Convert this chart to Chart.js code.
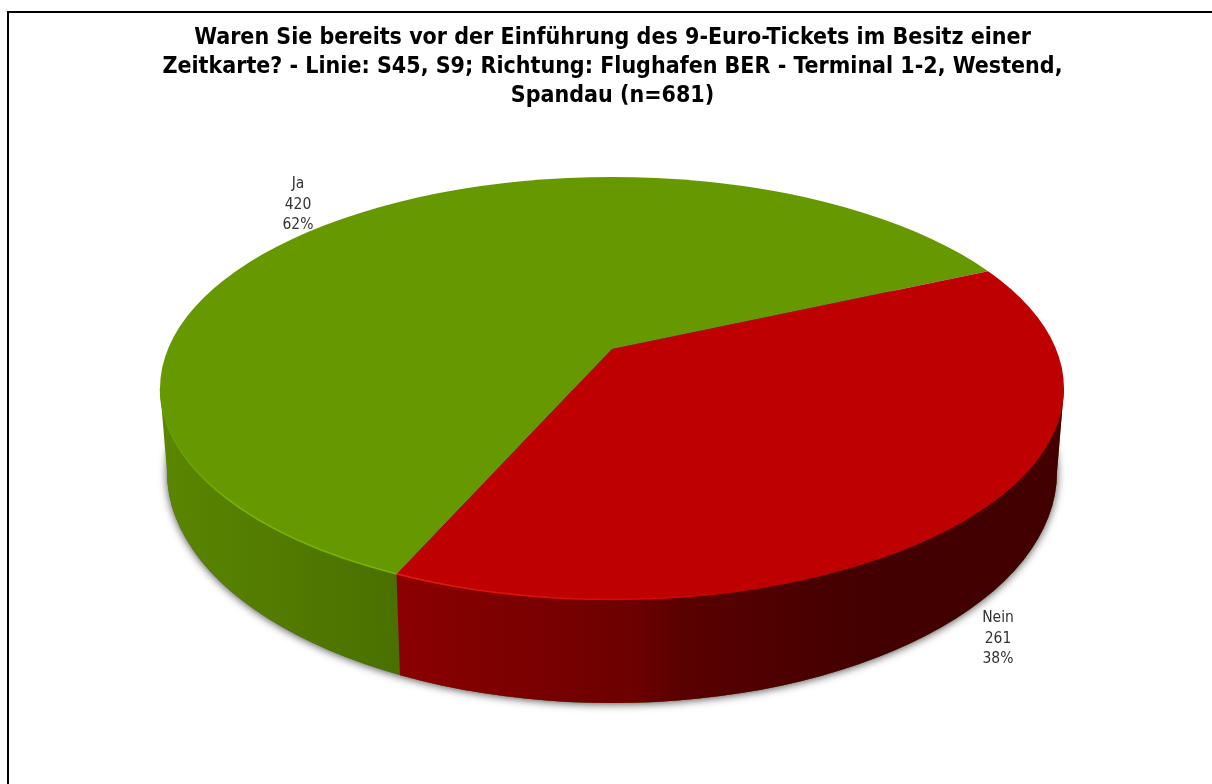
<!DOCTYPE html>
<html lang="de">
<head>
<meta charset="utf-8">
<title>9-Euro-Ticket</title>
<script src="https://cdn.jsdelivr.net/npm/chart.js@4"></script>
<style>
    html, body { margin: 0; background: #fff; overflow: hidden; }
    #frame { position: absolute; left: 7px; top: 11px; width: 1300px; height: 900px; border: 2px solid #000; }
    #pie { position: absolute; left: 0; top: 0; }
</style>
</head>
<body>
<div id="frame"></div>
<canvas id="pie" width="1212" height="784"></canvas>
<script>
const titleLines = [
    'Waren Sie bereits vor der Einführung des 9-Euro-Tickets im Besitz einer',
    'Zeitkarte? - Linie: S45, S9; Richtung: Flughafen BER - Terminal 1-2, Westend,',
    'Spandau (n=681)',
];
const categories = ['Ja', 'Nein'];
const answerCounts = [420, 261];
const topColors = ['#669900', '#bf0000'];

// look of the tilted disc, in page pixels
const apex = { x: 612, y: 349 };
const topDisc = { x: 612, y: 388.5, rx: 452, ry: 211.5 };
const bottomDisc = { x: 612, y: 472, rx: 445, ry: 231 };
const tilt = topDisc.ry / topDisc.rx;
const labelAnchors = [{ x: 298, y: 184 }, { x: 998, y: 618 }];

function discPath(ctx, disc) {
    ctx.beginPath();
    ctx.ellipse(disc.x, disc.y, disc.rx, disc.ry, 0, 0, Math.PI * 2);
}

function sidePath(ctx) {
    ctx.beginPath();
    ctx.moveTo(topDisc.x - topDisc.rx, topDisc.y);
    ctx.lineTo(bottomDisc.x - bottomDisc.rx, bottomDisc.y);
    ctx.ellipse(bottomDisc.x, bottomDisc.y, bottomDisc.rx, bottomDisc.ry, 0, Math.PI, 0, true);
    ctx.lineTo(topDisc.x + topDisc.rx, topDisc.y);
    ctx.closePath();
}

// where a slice edge leaving the apex meets the rim of the top disc
function rimPoint(angle) {
    const dx = Math.cos(angle);
    const dy = Math.sin(angle) * tilt;
    const ox = (apex.x - topDisc.x) / topDisc.rx;
    const oy = (apex.y - topDisc.y) / topDisc.ry;
    const ux = dx / topDisc.rx;
    const uy = dy / topDisc.ry;
    const a = ux * ux + uy * uy;
    const b = 2 * (ox * ux + oy * uy);
    const c = ox * ox + oy * oy - 1;
    const t = (-b + Math.sqrt(b * b - 4 * a * c)) / (2 * a);
    return { x: apex.x + dx * t, y: apex.y + dy * t };
}

const discPlugin = {
    id: 'disc3d',
    beforeDatasetsDraw(chart) {
        const ctx = chart.ctx;
        const arcs = chart.getDatasetMeta(0).data;
        const front = rimPoint(arcs[0].startAngle);
        const frontBottomX = front.x + 5;

        ctx.save();
        ctx.shadowColor = 'rgba(0, 0, 0, 0.7)';
        ctx.shadowBlur = 9;
        ctx.shadowOffsetY = 1;
        ctx.fillStyle = '#555';
        discPath(ctx, bottomDisc);
        ctx.fill();
        ctx.restore();

        const greenSide = ctx.createLinearGradient(160, 0, front.x, 0);
        greenSide.addColorStop(0, '#5a8600');
        greenSide.addColorStop(1, '#4a7000');
        const redSide = ctx.createLinearGradient(front.x, 0, 1064, 0);
        redSide.addColorStop(0, '#8c0000');
        redSide.addColorStop(0.36, '#6c0000');
        redSide.addColorStop(0.43, '#5a0000');
        redSide.addColorStop(0.7, '#440000');
        redSide.addColorStop(1, '#420000');

        ctx.save();
        sidePath(ctx);
        ctx.clip();
        ctx.fillStyle = greenSide;
        ctx.fillRect(150, 380, 920, 340);
        ctx.beginPath();
        ctx.moveTo(front.x, 380);
        ctx.lineTo(front.x, front.y);
        ctx.lineTo(frontBottomX, 720);
        ctx.lineTo(1080, 720);
        ctx.lineTo(1080, 380);
        ctx.closePath();
        ctx.fillStyle = redSide;
        ctx.fill();
        ctx.restore();

        // the slices are drawn by Chart.js, squeezed and cut to the tilted disc
        const k = 2;
        ctx.save();
        discPath(ctx, topDisc);
        ctx.clip();
        ctx.translate(apex.x, apex.y);
        ctx.scale(k, k * tilt);
        ctx.translate(-arcs[0].x, -arcs[0].y);
    },
    afterDatasetsDraw(chart) {
        const ctx = chart.ctx;
        const arcs = chart.getDatasetMeta(0).data;
        ctx.restore();

        const front = rimPoint(arcs[0].startAngle);
        const split = Math.atan2((front.y - topDisc.y) / topDisc.ry, (front.x - topDisc.x) / topDisc.rx);
        const greenRim = ctx.createLinearGradient(160, 0, front.x, 0);
        greenRim.addColorStop(0, '#669900');
        greenRim.addColorStop(0.3, '#78b400');
        greenRim.addColorStop(1, '#78b400');
        const redRim = ctx.createLinearGradient(front.x, 0, 760, 0);
        redRim.addColorStop(0, '#e81a0a');
        redRim.addColorStop(0.6, '#d80808');
        redRim.addColorStop(1, '#bf0000');

        ctx.save();
        ctx.lineWidth = 1.5;
        ctx.strokeStyle = greenRim;
        ctx.beginPath();
        ctx.ellipse(topDisc.x, topDisc.y, topDisc.rx - 0.5, topDisc.ry - 0.5, 0, split, Math.PI);
        ctx.stroke();
        ctx.strokeStyle = redRim;
        ctx.beginPath();
        ctx.ellipse(topDisc.x, topDisc.y, topDisc.rx - 0.5, topDisc.ry - 0.5, 0, Math.PI / 2 - 0.3, split);
        ctx.stroke();
        ctx.restore();
    },
    afterDraw(chart) {
        const ctx = chart.ctx;
        const total = answerCounts.reduce((sum, n) => sum + n, 0);
        ctx.save();
        ctx.font = '15.5px "DejaVu Sans Condensed", "DejaVu Sans", sans-serif';
        ctx.fillStyle = '#333';
        ctx.textAlign = 'center';
        ctx.textBaseline = 'middle';
        categories.forEach((name, i) => {
            const lines = [name, String(answerCounts[i]), Math.round(answerCounts[i] / total * 100) + '%'];
            lines.forEach((line, row) => {
                ctx.fillText(line, labelAnchors[i].x, labelAnchors[i].y + row * 20.5);
            });
        });
        ctx.restore();
    },
};

new Chart(document.getElementById('pie'), {
    type: 'pie',
    data: {
        labels: categories,
        datasets: [{
            data: answerCounts,
            backgroundColor: topColors,
            borderWidth: 0,
            clip: false,
        }],
    },
    options: {
        responsive: false,
        animation: false,
        rotation: 204.1,
        layout: { padding: { left: 13 } },
        plugins: {
            legend: { display: false },
            tooltip: { enabled: false },
            title: {
                display: true,
                text: titleLines,
                color: '#000',
                font: { family: '"DejaVu Sans Condensed", "DejaVu Sans", sans-serif', size: 23, weight: 'bold', lineHeight: 1.245 },
                padding: { top: 24, bottom: 10 },
            },
        },
    },
    plugins: [discPlugin],
});
</script>
</body>
</html>
